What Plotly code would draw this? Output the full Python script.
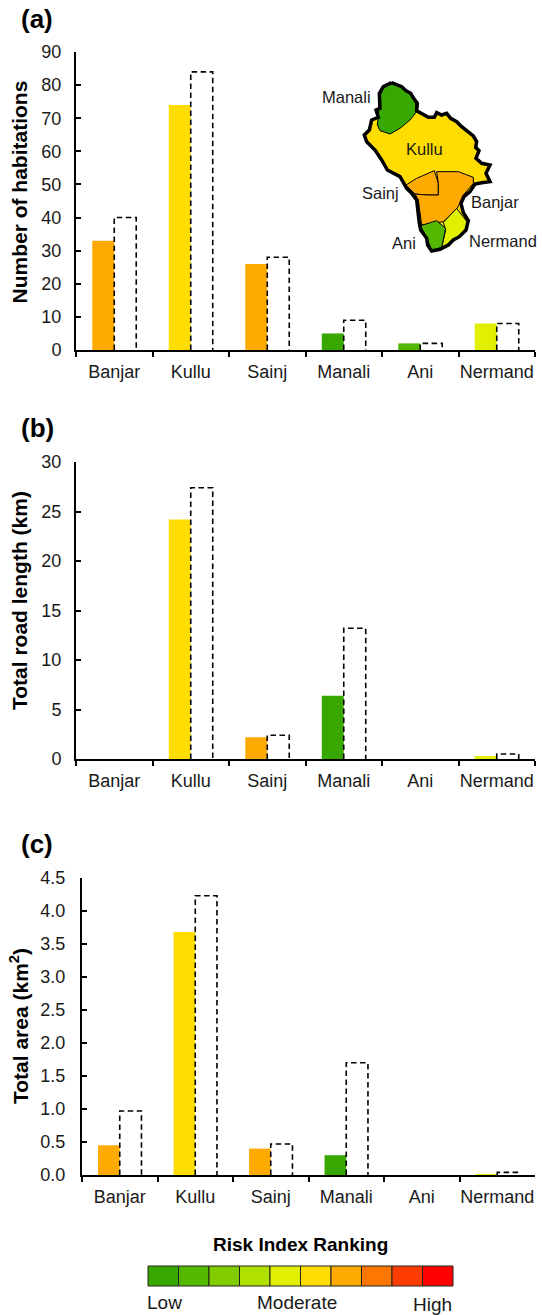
import plotly.graph_objects as go

W, H = 542, 1315

categories = ["Banjar", "Kullu", "Sainj", "Manali", "Ani", "Nermand"]
risk_colors = ["#ffaa00", "#ffdd00", "#ffaa00", "#38a800", "#55b800", "#e0f000"]

habitations_risk = [33, 74, 26, 5, 2, 8]
habitations_total = [40, 84, 28, 9, 2, 8]
road_risk = [0, 24.2, 2.2, 6.4, 0, 0.3]
road_total = [0, 27.4, 2.4, 13.2, 0, 0.5]
area_risk = [0.45, 3.68, 0.4, 0.3, 0, 0.01]
area_total = [0.97, 4.23, 0.47, 1.7, 0, 0.04]

scale_colors = ["#38a800", "#55b800", "#80cc00", "#b0e000", "#e0f000",
                "#ffdd00", "#ffaa00", "#ff7700", "#ff3c00", "#ff0000"]

# Schematic district map, traced in crop pixels
outline = [(275,68),(290,75),(305,80),(318,92),(332,100),(343,118),(352,130),(350,152),(368,163),(385,172),(403,172),
           (410,158),(425,165),(440,160),(452,175),(470,185),(485,200),(500,213),(520,228),(530,245),(527,262),(537,272),
           (528,295),(545,310),(570,315),(558,340),(570,365),(545,368),(525,372),(510,395),(492,410),(483,430),(490,458),
           (505,482),(498,510),(478,530),(460,540),(445,555),(420,568),(395,573),(383,555),(380,535),(362,510),(358,490),
           (352,450),(350,420),(335,400),(320,385),(300,350),(262,330),(245,300),(225,270),(200,245),(193,225),(208,210),
           (215,180),(235,172),(228,150),(240,145),(238,100),(250,80),(275,68)]
map_regions = {
    "Manali": ("#38a800", [(275,70),(300,80),(325,95),(345,120),(350,155),(330,180),(300,205),(270,222),(240,212),(232,195),(235,170),(238,110),(252,82),(275,70)]),
    "Sainj": ("#ffaa00", [(318,375),(350,355),(403,332),(415,370),(415,405),(380,405),(345,402),(318,375)]),
    "Banjar": ("#ffaa00", [(410,335),(475,335),(520,352),(520,370),(490,405),(472,445),(430,485),(365,495),(355,420),(345,402),(380,405),(415,405),(415,370),(410,335)]),
    "Nermand": ("#e0f000", [(470,445),(490,470),(503,488),(495,515),(465,540),(425,562),(437,510),(430,487),(470,445)]),
    "Ani": ("#55b800", [(362,497),(410,482),(437,505),(425,562),(395,572),(385,545),(362,497)]),
}
map_labels = [("Manali", 346, 97), ("Kullu", 424, 149), ("Sainj", 380, 193),
              ("Banjar", 495, 202), ("Ani", 404, 243), ("Nermand", 503, 241)]

FONT = "Liberation Sans"
INK = "#1a1a1a"
panels = [
    dict(risk=habitations_risk, total=habitations_total, ymax=90, dtick=10, fmt="d", title="Number of habitations",
         left=76, top=52, bottom=350, letter="(a)", ly=19, ty=192.5, off=9),
    dict(risk=road_risk, total=road_total, ymax=30, dtick=5, fmt="d", title="Total road length (km)",
         left=76, top=462, bottom=759, letter="(b)", ly=428, ty=601, off=9),
    dict(risk=area_risk, total=area_total, ymax=4.5, dtick=0.5, fmt=".1f", title="Total area (km<sup>2</sup>)",
         left=82, top=878, bottom=1175, letter="(c)", ly=843.5, ty=1026, off=11),
]

def note(text, x, y, size, color=INK, angle=0, xanchor="center"):
    return dict(text=text, x=x/W, y=1-y/H, xref="paper", yref="paper", xanchor=xanchor, yanchor="middle", showarrow=False,
                textangle=angle, font=dict(size=size, family=FONT, color=color))

fig = go.Figure()
annotations = []
shapes = []
for i, p in enumerate(panels, start=1):
    xa, ya = f"x{i}", f"y{i}"
    fig.add_bar(x=categories, y=p["risk"], xaxis=xa, yaxis=ya, marker=dict(color=risk_colors, line_width=0), showlegend=False)
    fig.add_bar(x=categories, y=p["total"], xaxis=xa, yaxis=ya, showlegend=False,
                marker=dict(color="rgba(0,0,0,0)", line=dict(color="#000", width=1.6)))
    fig.update_layout({
        f"xaxis{i}": dict(domain=[p["left"]/W, 535/W], anchor=ya, type="category", tickson="boundaries", automargin=False, tickangle=0,
                          ticks="outside", ticklen=5, tickwidth=2, tickcolor="#000", showline=True, linecolor="#000",
                          linewidth=2, showgrid=False, zeroline=False, ticklabelstandoff=4,
                          tickfont=dict(size=18, family=FONT, color=INK)),
        f"yaxis{i}": dict(domain=[1-p["bottom"]/H, 1-p["top"]/H], anchor=xa, range=[0, p["ymax"]], dtick=p["dtick"], tick0=0, automargin=False,
                          tickformat=p["fmt"], ticks="inside", ticklen=5, tickwidth=2, tickcolor="#000", showline=True,
                          linecolor="#000", linewidth=2, showgrid=False, zeroline=False, ticklabelstandoff=p["off"],
                          tickfont=dict(size=18, family=FONT, color=INK)),
    })
    annotations.append(note(f"<b>{p['letter']}</b>", 19, p["ly"], 26, "#000", xanchor="left"))
    annotations.append(note(f"<b>{p['title']}</b>", 19, p["ty"], 21, "#000", angle=-90))

# Map overlay on a hidden page-sized axis pair
def to_page(pts):
    return [300+a/3 for a, _ in pts], [60+b/3 for _, b in pts]

ox, oy = to_page(outline)
def add_map(x, y, fill=None, lw=1.0):
    fig.add_scatter(x=x, y=y, xaxis="x4", yaxis="y4", mode="lines", showlegend=False, hoverinfo="skip",
                    line=dict(color="#000", width=lw), fill="toself" if fill else "none", fillcolor=fill)
add_map(ox, oy, "#ffdd00", 1)
for name, (col, pts) in map_regions.items():
    x, y = to_page(pts)
    add_map(x, y, col, 1)
add_map(ox, oy, None, 3.5)
fig.update_layout(
    xaxis4=dict(domain=[0, 1], range=[0, W], visible=False, fixedrange=True, automargin=False, anchor="y4"),
    yaxis4=dict(domain=[0, 1], range=[H, 0], visible=False, fixedrange=True, anchor="x4", automargin=False),
)
for t, x, y in map_labels:
    annotations.append(note(t, x, y, 16.5))

# Colour scale
x0, x1, n = 148, 453, len(scale_colors)
for k, c in enumerate(scale_colors):
    shapes.append(dict(type="rect", xref="paper", yref="paper", x0=(x0+(x1-x0)*k/n)/W, x1=(x0+(x1-x0)*(k+1)/n)/W,
                       y0=1-1286/H, y1=1-1266/H, fillcolor=c, line=dict(color="#222", width=1)))
annotations.append(note("<b>Risk Index Ranking</b>", 300, 1244, 19, "#000"))
for t, x, y in [("Low", 164, 1302), ("Moderate", 297, 1302), ("High", 432, 1304.5)]:
    annotations.append(note(t, x, y, 19))

fig.update_layout(width=W, height=H, autosize=False, margin=dict(l=0, r=0, t=0, b=0, autoexpand=False), barmode="group", bargap=0.425, bargroupgap=0,
                  paper_bgcolor="#fff", plot_bgcolor="rgba(0,0,0,0)", annotations=annotations, shapes=shapes,
                  font=dict(family=FONT))

post = """
document.body.style.margin='0';
var gd=document.getElementById('{plot_id}');
function dashBars(){gd.querySelectorAll('.barlayer .trace').forEach(function(t,i){
  if(i%2==1){t.querySelectorAll('path').forEach(function(p){
    p.style.strokeDasharray='5.5,3.5';
    if(p.getBBox().height<0.5){p.style.display='none';}
    var d=p.getAttribute('d');
    if(d){p.setAttribute('d',d.replace('Z',''));}
  });}
});}
dashBars();gd.on('plotly_afterplot',dashBars);
"""
fig.write_html("out.html", post_script=post, config={"displayModeBar": False})
